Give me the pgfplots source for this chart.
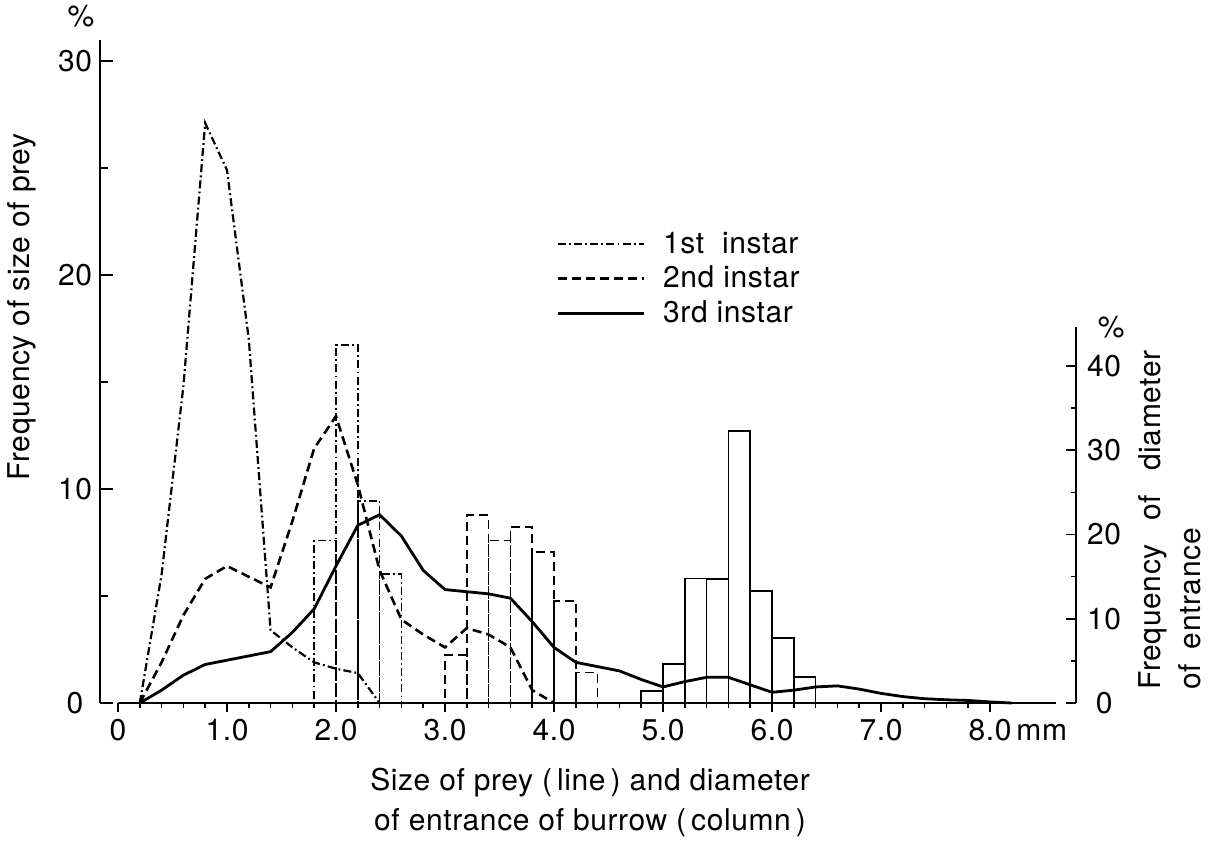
\documentclass[border=0pt]{standalone}
\usepackage{fontspec}
\setmainfont{TeX Gyre Heros}[LetterSpace=2]
\usepackage{pgfplots}
\pgfplotsset{compat=1.18}

\pgfplotsset{
  common/.style={
    x=54.5pt, xmin=-0.165, xmax=8.79,
    clip=false, at={(0pt,0pt)}, anchor=south west,
    axis line style={line width=0.9pt},
    every tick/.style={line width=0.8pt, black},
  },
  dashdotline/.style={line width=1.1pt, dash pattern=on 4pt off 1.6pt on 0.9pt off 1.6pt},
  dashline/.style={line width=1.3pt, dash pattern=on 4.5pt off 2.5pt},
  solidline/.style={line width=1.4pt},
}

\begin{document}
\begin{tikzpicture}[font=\fontsize{15pt}{18pt}\selectfont]
\path[use as bounding box] (-50pt,-68.5pt) rectangle (554pt,351.5pt);

% ---------- x axis ----------
\begin{axis}[common, at={(8.9925pt,0pt)}, xmin=0, xmax=8.61,
  y=1pt, ymin=0, ymax=1,
  axis x line*=bottom, axis y line=none, tick align=outside,
  xtick={0,1,2,3,4,5,6,7,8},
  xticklabels={0,1.0,2.0,3.0,4.0,5.0,6.0,7.0,{8.0\rlap{\,mm}}},
  minor x tick num=4, major tick length=4.5pt, minor tick length=2.5pt,
  xlabel={Size of prey (\,line\,) and diameter\\[2pt]of entrance of burrow (\,column\,)},
  xlabel style={at={(axis description cs:0.503,-50)}, anchor=center, align=center},
]
\end{axis}

% ---------- left axis: prey size lines ----------
\begin{axis}[common, y=10.7pt, ymin=0, ymax=31,
  axis x line=none, axis y line*=left, tick align=inside,
  ytick={0,10,20,30}, yticklabels={0,10,20,30},
  minor y tick num=1, major tick length=6.5pt, minor tick length=4pt,
  yticklabel style={anchor=center, xshift=-12.5pt},
  ylabel={Frequency of size of prey},
  ylabel style={at={(axis description cs:-0.0799,0.597)}, anchor=center},
  legend style={at={(axis description cs:0.461,0.723)}, anchor=north west,
    draw=none, fill=none, row sep=1pt, column sep=7pt},
  legend cell align=left,
  legend image code/.code={\draw[#1] (0pt,0pt) -- (43pt,0pt);},
]
\addplot[dashdotline] coordinates {
 (0.2,0) (0.4,6.0) (0.6,14.8) (0.8,27.1) (1.0,24.9) (1.2,17.0) (1.4,3.4)
 (1.6,2.6) (1.8,1.9) (2.0,1.6) (2.2,1.4) (2.4,0)};
\addlegendentry{1st\ \ instar}
\addplot[dashline] coordinates {
 (0.2,0) (0.4,1.9) (0.6,4.1) (0.8,5.8) (1.0,6.4) (1.2,5.9) (1.4,5.4)
 (1.6,8.5) (1.8,11.9) (2.0,13.4) (2.2,10.2) (2.4,6.2) (2.6,3.9) (2.8,3.2)
 (3.0,2.6) (3.2,3.5) (3.4,3.2) (3.6,2.6) (3.8,0.6) (4.0,0)};
\addlegendentry{2nd instar}
\addplot[solidline] coordinates {
 (0.2,0) (0.4,0.6) (0.6,1.3) (0.8,1.8) (1.0,2.0) (1.2,2.2) (1.4,2.4)
 (1.6,3.3) (1.8,4.4) (2.0,6.4) (2.2,8.3) (2.4,8.8) (2.6,7.8) (2.8,6.2)
 (3.0,5.3) (3.2,5.2) (3.4,5.1) (3.6,4.9) (3.8,3.8) (4.0,2.6) (4.2,1.9)
 (4.4,1.7) (4.6,1.5) (4.8,1.1) (5.0,0.75) (5.2,1.0) (5.4,1.2) (5.6,1.2)
 (5.8,0.85) (6.0,0.5) (6.2,0.6) (6.4,0.75) (6.6,0.8) (6.8,0.65) (7.0,0.45)
 (7.2,0.3) (7.4,0.2) (7.6,0.15) (7.8,0.12) (8.0,0.05) (8.2,0)};
\addlegendentry{3rd instar}
\node at (axis description cs:-0.0195,1.035) {\%};
\end{axis}

% ---------- right axis: burrow entrance columns ----------
\begin{axis}[common, y=4.2125pt, ymin=0, ymax=44.6,
  axis x line=none, axis y line*=right, tick align=inside,
  ytick={0,10,20,30,40}, yticklabels={0,10,20,30,40},
  minor y tick num=1, major tick length=5pt, minor tick length=2.5pt,
  yticklabel style={anchor=center, xshift=14pt},
  ylabel={Frequency\hspace{0.8em}of\hspace{0.8em}diameter\\[2pt]of\hspace{0.5em}entrance},
  ylabel style={at={(axis description cs:1.0962,0.0346)}, anchor=west, align=left, inner sep=0pt},
]
\addplot[ybar interval, fill=none, draw=black, line width=0.8pt,
  dash pattern=on 4pt off 1.6pt on 0.9pt off 1.6pt] coordinates {
 (1.8,19.3) (2.0,42.5) (2.2,24.0) (2.4,15.3) (2.6,0)};
\addplot[ybar interval, fill=none, draw=black, line width=0.8pt,
  dash pattern=on 4.5pt off 2.5pt] coordinates {
 (3.0,5.7) (3.2,22.3) (3.4,19.3) (3.6,20.9) (3.8,17.9) (4.0,12.1) (4.2,3.6) (4.4,0)};
\addplot[ybar interval, fill=none, draw=black, line width=0.8pt] coordinates {
 (4.8,1.4) (5.0,4.6) (5.2,14.8) (5.4,14.7) (5.6,32.3) (5.8,13.3) (6.0,7.7) (6.2,3.1) (6.4,0)};
\node at (axis description cs:1.036,1.0) {\%};
\end{axis}
\end{tikzpicture}
\end{document}
